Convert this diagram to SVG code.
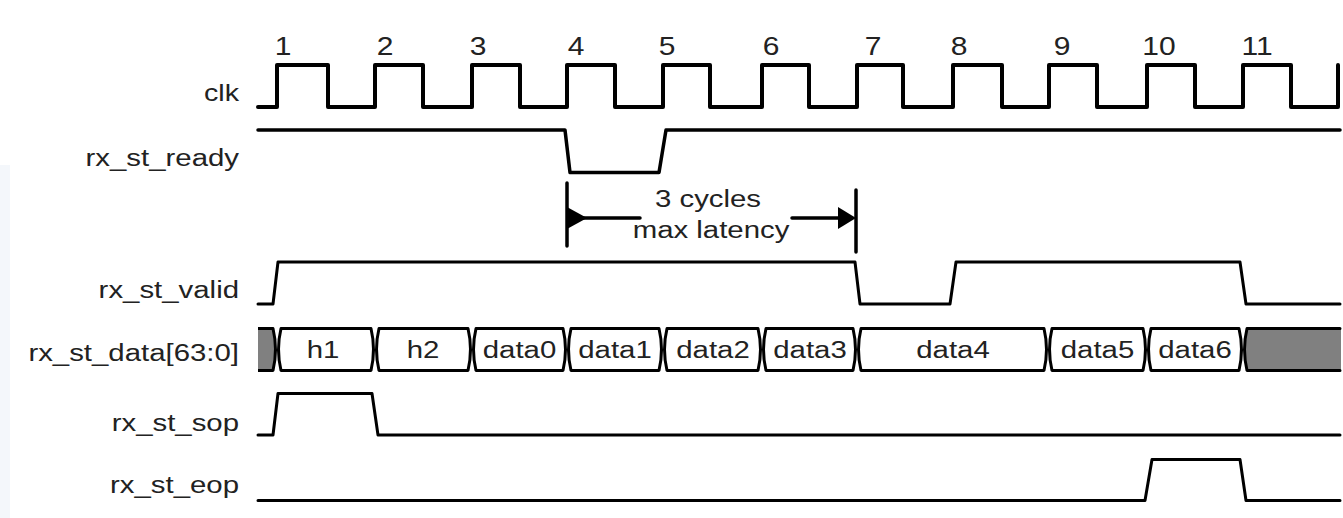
<svg xmlns="http://www.w3.org/2000/svg" width="1343" height="518" viewBox="0 0 1343 518">
<style>
  .w { fill: none; stroke: #000; stroke-width: 3; stroke-linejoin: round; stroke-linecap: round; }
  .thick { stroke-width: 4; }
  .seg { fill: #fff; stroke: #000; stroke-width: 3; stroke-linejoin: round; }
  .gray { fill: #808080; stroke: #000; stroke-width: 3; stroke-linejoin: round; }
  .grayfill { fill: #808080; stroke: none; }
  .lbl { font-family: "Liberation Sans", Arial, Helvetica, sans-serif; font-size: 23.5px; fill: #222; text-anchor: end; }
  .num { font-family: "Liberation Sans", Arial, Helvetica, sans-serif; font-size: 25px; fill: #222; text-anchor: middle; }
  .dt { font-family: "Liberation Sans", Arial, Helvetica, sans-serif; font-size: 23.5px; fill: #222; text-anchor: middle; }
</style>
<rect x="0" y="0" width="1343" height="518" fill="#fff"/>
<rect x="0" y="165" width="10" height="353" fill="#f4f7fb"/>

<g id="cycle-numbers">
  <text class="num" transform="translate(283,55) scale(1.2,1)">1</text>
  <text class="num" transform="translate(385,55) scale(1.2,1)">2</text>
  <text class="num" transform="translate(478,55) scale(1.2,1)">3</text>
  <text class="num" transform="translate(576,55) scale(1.2,1)">4</text>
  <text class="num" transform="translate(667,55) scale(1.2,1)">5</text>
  <text class="num" transform="translate(771,55) scale(1.2,1)">6</text>
  <text class="num" transform="translate(873,55) scale(1.2,1)">7</text>
  <text class="num" transform="translate(959,55) scale(1.2,1)">8</text>
  <text class="num" transform="translate(1062,55) scale(1.2,1)">9</text>
  <text class="num" transform="translate(1159,55) scale(1.2,1)">10</text>
  <text class="num" transform="translate(1257,55) scale(1.2,1)">11</text>
</g>

<g id="clk">
  <text class="lbl" transform="translate(239,101) scale(1.22,1)">clk</text>
  <path class="w thick" d="M258,107 H277 V65 H328 V107 H375 V65 H423 V107 H472 V65 H520 V107 H567 V65 H615 V107 H663 V65 H710 V107 H762 V65 H809 V107 H857 V65 H903 V107 H953 V65 H1002 V107 H1049 V65 H1097 V107 H1147 V65 H1195 V107 H1243 V65 H1291 V107 H1338 V65"/>
</g>

<g id="rx_st_ready">
  <text class="lbl" transform="translate(239,166) scale(1.25,1)">rx_st_ready</text>
  <path class="w" style="stroke-width:3.5" d="M258,130 H565 L570,172.5 H659 L666,130 H1340"/>
</g>

<g id="latency">
  <path class="w" style="stroke-width:3.5" d="M567,183 V246 M856,190 V252 M567,218 H640 M792,218 H850"/>
  <polygon points="567,207 587,218 567,229" fill="#000"/>
  <polygon points="838,207 856,218 838,229" fill="#000"/>
  <text class="dt" transform="translate(708,207) scale(1.25,1)">3 cycles</text>
  <text class="dt" transform="translate(711,238) scale(1.25,1)">max latency</text>
</g>

<g id="rx_st_valid">
  <text class="lbl" transform="translate(239,298) scale(1.25,1)">rx_st_valid</text>
  <path class="w" d="M258,304 H273 L278,262 H855 L860,304 H950 L956,262 H1240 L1246,304 H1340"/>
</g>

<g id="rx_st_data">
  <text class="lbl" transform="translate(239,360.5) scale(1.25,1)">rx_st_data[63:0]</text>
  <path class="gray" d="M258,328.5 H273 Q278,349.5 273,370.5 H258"/>
  <path class="seg" d="M281,328.5 H371 Q376,349.5 371,370.5 H281 Q276,349.5 281,328.5 Z"/>
  <path class="seg" d="M379,328.5 H468 Q473,349.5 468,370.5 H379 Q374,349.5 379,328.5 Z"/>
  <path class="seg" d="M476,328.5 H563 Q568,349.5 563,370.5 H476 Q471,349.5 476,328.5 Z"/>
  <path class="seg" d="M571,328.5 H659 Q664,349.5 659,370.5 H571 Q566,349.5 571,328.5 Z"/>
  <path class="seg" d="M667,328.5 H758 Q763,349.5 758,370.5 H667 Q662,349.5 667,328.5 Z"/>
  <path class="seg" d="M766,328.5 H853 Q858,349.5 853,370.5 H766 Q761,349.5 766,328.5 Z"/>
  <path class="seg" d="M861,328.5 H1044 Q1049,349.5 1044,370.5 H861 Q856,349.5 861,328.5 Z"/>
  <path class="seg" d="M1052,328.5 H1143 Q1148,349.5 1143,370.5 H1052 Q1047,349.5 1052,328.5 Z"/>
  <path class="seg" d="M1151,328.5 H1239 Q1244,349.5 1239,370.5 H1151 Q1146,349.5 1151,328.5 Z"/>
  <path class="grayfill" d="M1247,328.5 H1341 V370.5 H1247 Q1242,349.5 1247,328.5 Z"/>
  <path class="w" d="M1340,328.5 H1247 Q1242,349.5 1247,370.5 H1340"/>
  <text class="dt" transform="translate(323,357.5) scale(1.25,1)">h1</text>
  <text class="dt" transform="translate(423,357.5) scale(1.25,1)">h2</text>
  <text class="dt" transform="translate(519.5,357.5) scale(1.25,1)">data0</text>
  <text class="dt" transform="translate(615,357.5) scale(1.25,1)">data1</text>
  <text class="dt" transform="translate(713,357.5) scale(1.25,1)">data2</text>
  <text class="dt" transform="translate(810,357.5) scale(1.25,1)">data3</text>
  <text class="dt" transform="translate(953,357.5) scale(1.25,1)">data4</text>
  <text class="dt" transform="translate(1097.5,357.5) scale(1.25,1)">data5</text>
  <text class="dt" transform="translate(1195,357.5) scale(1.25,1)">data6</text>
</g>

<g id="rx_st_sop">
  <text class="lbl" transform="translate(239,430.5) scale(1.25,1)">rx_st_sop</text>
  <path class="w" d="M258,435 H273 L278,393.5 H372 L378,435 H1340"/>
</g>

<g id="rx_st_eop">
  <text class="lbl" transform="translate(239,493) scale(1.25,1)">rx_st_eop</text>
  <path class="w" d="M258,500.5 H1145 L1152,459.5 H1240 L1246,500.5 H1340"/>
</g>
</svg>
